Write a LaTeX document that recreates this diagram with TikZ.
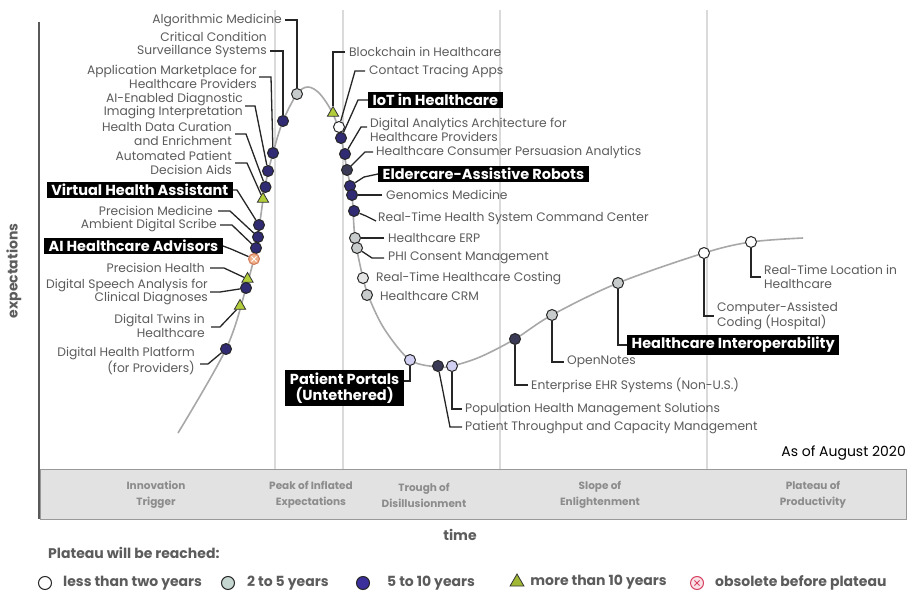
\documentclass[tikz,border=0pt]{standalone}
\usepackage{fontspec}
\setmainfont{Poppins}
\usetikzlibrary{shapes.geometric,backgrounds,positioning}

\definecolor{lblgray}{HTML}{5C5C5C}
\definecolor{dotblue}{HTML}{302B72}
\definecolor{dotslate}{HTML}{3A3A56}
\definecolor{dotgray}{HTML}{C8CBCB}
\definecolor{dotlav}{HTML}{D2D0F2}
\definecolor{dotgreen}{HTML}{B2CD3A}
\definecolor{dotorange}{HTML}{EFB08A}
\definecolor{obsline}{HTML}{D07A5A}
\definecolor{curvegray}{HTML}{A8A8A8}
\definecolor{phasegray}{HTML}{DADADA}
\definecolor{bandfill}{HTML}{E2E2E2}
\definecolor{bandtext}{HTML}{8C8C8C}
\definecolor{keyblue}{HTML}{3B2F9B}
\definecolor{keygray}{HTML}{C6D6D1}
\definecolor{keyred}{HTML}{D84060}

\begin{document}
\begin{tikzpicture}
    [x=1pt, y=-1pt,
    every node/.style={inner sep=0pt},
    lbl/.style={text=lblgray, font=\fontsize{12.3}{13.5}\selectfont},
    lft/.style={lbl, anchor=east, align=right},
    rgt/.style={lbl, anchor=west, align=left},
    tag/.style={fill=black, text=white, font=\bfseries\fontsize{14.5}{16.5}\selectfont, inner xsep=4.5pt, inner ysep=2.5pt},
    dot/.style={circle, draw=black!85, line width=1pt, minimum size=11pt},
    lesstwo/.style={dot, fill=white},
    twofive/.style={dot, fill=dotgray},
    fiveten/.style={dot, fill=dotblue},
    moreten/.style={regular polygon, regular polygon sides=3, draw=black!80, line width=0.8pt, fill=dotgreen, minimum size=13pt},
    xmark/.style={path picture={\draw[#1, line width=1pt]
        ([shift={(-2.6pt,-2.6pt)}]path picture bounding box.center) -- ([shift={(2.6pt,2.6pt)}]path picture bounding box.center)
        ([shift={(-2.6pt,2.6pt)}]path picture bounding box.center) -- ([shift={(2.6pt,-2.6pt)}]path picture bounding box.center);}},
    obsolete/.style={dot, draw=obsline, fill=dotorange, xmark=white},
    lead/.style={draw=black!85, line width=1.3pt},
    hype/.style={draw=curvegray, line width=1.6pt},
    phase/.style={draw=phasegray, line width=1.8pt},
    phasename/.style={text=bandtext, font=\bfseries\fontsize{10.5}{16}\selectfont, align=center},
    key/.style={text=lblgray, font=\bfseries\fontsize{14}{16}\selectfont}]

  \useasboundingbox (0,0) rectangle (909,593);

  % dots on the curve
  \node[twofive] (dAlgo) at (297,94) {};
  \node[fiveten] (dCrit) at (283,121) {};
  \node[fiveten] (dAppm) at (273,153) {};
  \node[fiveten] (dAiimg) at (268,171) {};
  \node[fiveten] (dHdc) at (265.5,187) {};
  \node[moreten] (dApda) at (263,199) {};
  \node[fiveten] (dVha) at (259,225) {};
  \node[fiveten] (dPmed) at (258,237) {};
  \node[fiveten] (dAds) at (256,248) {};
  \node[obsolete] (dAiha) at (254,259) {};
  \node[moreten] (dPhealth) at (247.5,279) {};
  \node[fiveten] (dDsa) at (246,288) {};
  \node[moreten] (dDtwins) at (240,306) {};
  \node[fiveten] (dDhp) at (226,349) {};
  \node[moreten] (dBchain) at (333,113) {};
  \node[lesstwo] (dCtrace) at (339,127) {};
  \node[fiveten] (dIot) at (341,138) {};
  \node[fiveten] (dDaa) at (345,154) {};
  \node[fiveten, fill=dotslate] (dHcpa) at (347,170) {};
  \node[fiveten] (dEldr) at (350,186) {};
  \node[fiveten] (dGenom) at (352,195) {};
  \node[fiveten] (dRthcc) at (354,211) {};
  \node[twofive] (dHerp) at (355,238) {};
  \node[twofive] (dPhi) at (357,248) {};
  \node[twofive, fill=gray!20] (dRtc) at (363,278) {};
  \node[twofive] (dCrm) at (367,295) {};
  \node[lesstwo, fill=dotlav] (dPport) at (410,360) {};
  \node[fiveten, fill=dotslate] (dPthru) at (438,366) {};
  \node[lesstwo, fill=dotlav] (dPop) at (452,366) {};
  \node[fiveten, fill=dotslate] (dEhr) at (515,339) {};
  \node[twofive] (dOn) at (552,315) {};
  \node[twofive] (dHinter) at (618,283) {};
  \node[lesstwo] (dCac) at (704,253) {};
  \node[lesstwo] (dRtl) at (751,242) {};

  % labels
  \node[lft] (algo) at (282,20) {Algorithmic Medicine};
  \node[lft] (crit) at (267,45) {Critical Condition\\Surveillance Systems};
  \node[lft] (appm) at (257,77) {Application Marketplace for\\Healthcare Providers};
  \node[lft] (aiimg) at (243,106) {AI-Enabled Diagnostic\\Imaging Interpretation};
  \node[lft] (hdc) at (232,134) {Health Data Curation\\and Enrichment};
  \node[lft] (apda) at (232,163) {Automated Patient\\Decision Aids};
  \node[tag, anchor=east] (vha) at (233,190) {Virtual Health Assistant};
  \node[lft] (pmed) at (213,211) {Precision Medicine};
  \node[lft] (ads) at (217,225) {Ambient Digital Scribe};
  \node[tag, anchor=east] (aiha) at (223,246) {AI Healthcare Advisors};
  \node[lft] (phealth) at (205,268) {Precision Health};
  \node[lft] (dsa) at (208,292) {Digital Speech Analysis for\\Clinical Diagnoses};
  \node[lft] (dtwins) at (205,326) {Digital Twins in\\Healthcare};
  \node[lft] (dhp) at (195,361) {Digital Health Platform\\(for Providers)};

  \node[rgt] (bchain) at (349,52) {Blockchain in Healthcare};
  \node[rgt] (ctrace) at (369,71) {Contact Tracing Apps};
  \node[tag, anchor=west] (iot) at (368,100) {IoT in Healthcare};
  \node[rgt] (daa) at (370,130) {Digital Analytics Architecture for\\Healthcare Providers};
  \node[rgt] (hcpa) at (376,152) {Healthcare Consumer Persuasion Analytics};
  \node[tag, anchor=west] (eldr) at (378,174) {Eldercare-Assistive Robots};
  \node[rgt] (genom) at (386,195) {Genomics Medicine};
  \node[rgt] (rthcc) at (378,218) {Real-Time Health System Command Center};
  \node[rgt] (herp) at (388,238) {Healthcare ERP};
  \node[rgt] (phi) at (388,258) {PHI Consent Management};
  \node[rgt] (rtc) at (376,278) {Real-Time Healthcare Costing};
  \node[rgt] (crm) at (380,296) {Healthcare CRM};

  \node[tag, anchor=east, align=center] (pport) at (404,388) {Patient Portals\\(Untethered)};
  \node[rgt] (popmgmt) at (465,409) {Population Health Management Solutions};
  \node[rgt] (pthru) at (465,427) {Patient Throughput and Capacity Management};
  \node[rgt] (ehr) at (531,385) {Enterprise EHR Systems (Non-U.S.)};
  \node[rgt] (onotes) at (567,362) {OpenNotes};
  \node[tag, anchor=west] (hinter) at (627,345) {Healthcare Interoperability};
  \node[rgt] (cac) at (717,316) {Computer-Assisted\\Coding (Hospital)};
  \node[rgt] (rtl) at (764,277) {Real-Time Location in\\Healthcare};

  \node[anchor=east, font=\fontsize{14}{16}\selectfont] (asof) at (906,453) {As of August 2020};

  % phases
  \node[phasename] (pInno) at (156,495) {Innovation\\Trigger};
  \node[phasename] (pPeak) at (311,495) {Peak of Inflated\\Expectations};
  \node[phasename] (pTrough) at (424,495) {Trough of\\Disillusionment};
  \node[phasename] (pSlope) at (600,495) {Slope of\\Enlightenment};
  \node[phasename] (pPlat) at (813,495) {Plateau of\\Productivity};

  \node[key] (time) at (460,535) {time};
  \node[key, rotate=90] (expect) at (14,271) {expectations};

  % legend
  \node[key, anchor=west] (plateau) at (48,553) {Plateau will be reached:};
  \node[lesstwo, minimum size=13pt] (kLess) at (45,583) {};
  \node[key, right=11pt of kLess] (tLess) {less than two years};
  \node[twofive, fill=keygray, minimum size=13pt] (kTwo) at (228,583) {};
  \node[key, right=12pt of kTwo] (tTwo) {2 to 5 years};
  \node[fiveten, fill=keyblue, minimum size=13pt] (kFive) at (363,583) {};
  \node[key, right=17pt of kFive] (tFive) {5 to 10 years};
  \node[moreten, minimum size=16pt, fill=dotgreen!90!black] (kMore) at (517,582) {};
  \node[key, right=8pt of kMore] (tMore) {more than 10 years};
  \node[dot, draw=keyred, fill=keyred!15, minimum size=13pt, xmark=keyred] (kObs) at (697,583) {};
  \node[key, right=11pt of kObs] (tObs) {obsolete before plateau};

  \begin{pgfonlayer}{background}
    \fill[white] (0,0) rectangle (909,593);
    \draw[fill=bandfill, draw=black!40, line width=1pt] (40,469) rectangle (906,519);
    \foreach \px in {275,343,500,707}
      \draw[phase] (\px,10) -- (\px,469);
    \draw[draw=black!65, line width=2pt] (39,22) -- (39,519);
    \draw[hype] plot[smooth, tension=0.55] coordinates {(178,433) (226,349) (246,288) (256,248)
      (265,187) (273,153) (283,121) (297,94) (308,87) (320,94) (333,114) (341,138) (347,170)
      (352,195) (355,238) (363,278) (370,300) (385,330) (410,360) (438,367) (452,366) (480,357)
      (515,339) (552,315) (618,283) (704,253) (751,242) (803,238)};

    \draw[lead] ([xshift=3pt]algo.east) -| (dAlgo.north);
    \draw[lead] ([xshift=3pt,yshift=-6pt]crit.east) -| (dCrit.north);
    \draw[lead] ([xshift=2pt]appm.east) -- ++(12,0) -- (dAppm);
    \draw[lead] ([xshift=2pt]aiimg.east) -- ++(10,0) -- (dAiimg);
    \draw[lead] ([xshift=3pt]hdc.east) -- ++(11,0) -- (dHdc);
    \draw[lead] ([xshift=3pt]apda.east) -- ++(12,0) -- (dApda);
    \draw[lead] (vha.east) -- ++(4,0) -- (dVha);
    \draw[lead] ([xshift=5pt]pmed.east) -- ++(12,0) -- (dPmed);
    \draw[lead] ([xshift=3pt]ads.east) -- ++(12,0) -- (dAds);
    \draw[lead] (aiha.east) -- ++(8,3) -- (dAiha);
    \draw[lead] ([xshift=5pt]phealth.east) -- ++(14,0) -- (dPhealth);
    \draw[lead] ([xshift=2pt]dsa.east) -- ++(10,0) -- (dDsa);
    \draw[lead] ([xshift=6pt,yshift=-1pt]dtwins.east) -- ++(9,0) -- (dDtwins);
    \draw[lead] ([xshift=5pt,yshift=-3pt]dhp.east) -- ++(8,0) -- (dDhp);

    \draw[lead] ([xshift=-4pt]bchain.west) -| (dBchain.north);
    \draw[lead] ([xshift=-4pt]ctrace.west) -- ++(-10,0) -- (dCtrace);
    \draw[lead] (iot.west) -- ++(-10,0) -- (dIot);
    \draw[lead] ([xshift=-3pt,yshift=3pt]daa.west) -- ++(-6,0) -- (dDaa);
    \draw[lead] ([xshift=-3pt]hcpa.west) -- ++(-8,0) -- (dHcpa);
    \draw[lead] (eldr.west) -- ++(-14,3) -- (dEldr);
    \draw[lead] ([xshift=-4pt]genom.west) -- (dGenom);
    \draw[lead] ([xshift=-2pt,yshift=-3pt]rthcc.west) -- ++(-10,-5) -- (dRthcc);
    \draw[lead] ([xshift=-4pt]herp.west) -- (dHerp);
    \draw[lead] ([xshift=-4pt]phi.west) -- ++(-12,0) -- (dPhi);

    \draw[lead] (dPport.south) |- ([yshift=7pt]pport.east);
    \draw[lead] ([xshift=-3pt]pthru.west) -- ++(-12,0) -- (dPthru);
    \draw[lead] (dPop.south) |- ([xshift=-3pt]popmgmt.west);
    \draw[lead] (dEhr.south) |- ([xshift=-3pt]ehr.west);
    \draw[lead] (dOn.south) |- ([xshift=-3pt]onotes.west);
    \draw[lead] (dHinter.south) |- (hinter.west);
    \draw[lead] (dCac.south) |- ([xshift=-3pt]cac.west);
    \draw[lead] (dRtl.south) |- ([xshift=-3pt]rtl.west);
  \end{pgfonlayer}
\end{tikzpicture}
\end{document}
